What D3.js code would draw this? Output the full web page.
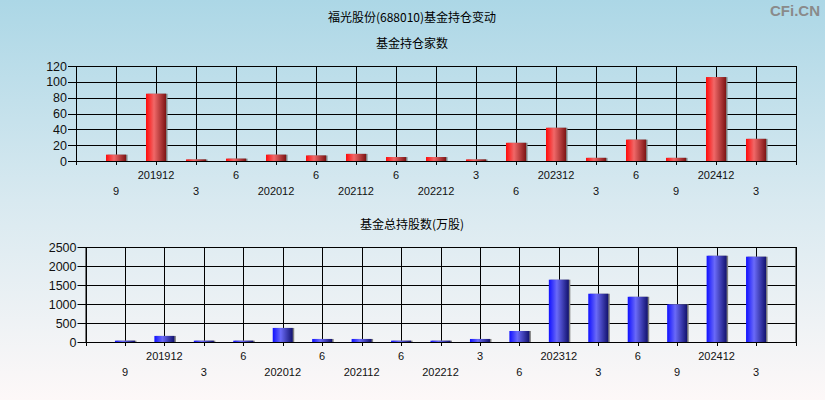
<!DOCTYPE html>
<html><head><meta charset="utf-8">
<script src="https://cdn.jsdelivr.net/npm/d3@7"></script>
<style>html,body{margin:0;padding:0;}svg{display:block;}</style>
</head><body>
<script>
const title = "福光股份(688010)基金持仓变动";
const topTitle = "基金持仓家数";
const bottomTitle = "基金总持股数(万股)";
const periods = ["9","201912","3","6","202012","6","202112","6","202212","3","6","202312","3","6","9","202412","3"];
const fundCount = [8,85,2,3,8,7,9,5,5,2,23,42,4,27,4,106,28];
const sharesHeld = [35,160,35,35,370,80,80,35,35,80,290,1640,1270,1190,990,2270,2245];
const topTicks = [0,20,40,60,80,100,120];
const bottomTicks = [0,500,1000,1500,2000,2500];

const W = 825, H = 400;
const svg = d3.select("body").append("svg").attr("width", W).attr("height", H);
const defs = svg.append("defs");
const bg = defs.append("linearGradient").attr("id","bg").attr("x1",0).attr("y1",0).attr("x2",0).attr("y2",1);
bg.append("stop").attr("offset","0%").attr("stop-color","#acd7e6");
bg.append("stop").attr("offset","50%").attr("stop-color","#d8e9f0");
bg.append("stop").attr("offset","100%").attr("stop-color","#fdf8f8");
function barGrad(id, c1, c2, c3) {
  const g = defs.append("linearGradient").attr("id", id).attr("x1",0).attr("y1",0).attr("x2",1).attr("y2",0);
  g.append("stop").attr("offset","0%").attr("stop-color",c1);
  g.append("stop").attr("offset","40%").attr("stop-color",c2);
  g.append("stop").attr("offset","100%").attr("stop-color",c3);
}
barGrad("red", "#ff0a0a", "#f06868", "#7e1414");
barGrad("blue", "#1010ff", "#6a6af8", "#12126e");

svg.append("rect").attr("width", W).attr("height", H).attr("fill", "url(#bg)");

const cjk = "'Noto Sans CJK SC', sans-serif";
const num = "'Liberation Sans', Arial, sans-serif";

svg.append("text").attr("x", 412).attr("y", 22).attr("text-anchor","middle")
  .style("font-family", cjk).style("font-size","12px").attr("fill","#000").text(title);
svg.append("text").attr("x", 820).attr("y", 16).attr("text-anchor","end")
  .style("font-family", num).style("font-size","15px").style("font-weight","bold").attr("fill","#8a8a8a").text("CFi.CN");

function panel(cfg) {
  const g = svg.append("g");
  const x = d3.scaleLinear().domain([0, periods.length + 1]).range([cfg.left, cfg.right]);
  const y = d3.scaleLinear().domain([0, cfg.max]).range([cfg.bottom, cfg.top]);
  g.append("text").attr("x", 412).attr("y", cfg.titleY).attr("text-anchor","middle")
    .style("font-family", cjk).style("font-size","12px").attr("fill","#000").text(cfg.title);
  // horizontal grid + y ticks
  g.selectAll(".hg").data(cfg.ticks).join("line")
    .attr("x1", cfg.left - 8).attr("x2", cfg.right)
    .attr("y1", d => Math.round(y(d)) + 0.5).attr("y2", d => Math.round(y(d)) + 0.5)
    .attr("stroke","#000").attr("stroke-width",1);
  g.selectAll(".yl").data(cfg.ticks).join("text")
    .attr("x", cfg.left - 9).attr("y", d => y(d) + 4.5).attr("text-anchor","end")
    .style("font-family", num).style("font-size","12.5px").attr("fill","#111").text(d => d);
  // vertical grid
  const xt = d3.range(0, periods.length + 2);
  g.selectAll(".vg").data(xt).join("line")
    .attr("x1", d => Math.round(x(d)) + 0.5).attr("x2", d => Math.round(x(d)) + 0.5)
    .attr("y1", cfg.top).attr("y2", cfg.bottom + 4)
    .attr("stroke","#000").attr("stroke-width",1);
  // border
  g.append("rect").attr("x", cfg.left + 0.5).attr("y", Math.round(cfg.top) + 0.5)
    .attr("width", cfg.right - cfg.left).attr("height", Math.round(cfg.bottom) - Math.round(cfg.top))
    .attr("fill","none").attr("stroke","#000");
  // bars
  const bw = 20;
  const data = cfg.values.map((v, i) => ({v, i: i + 1}));
  g.selectAll(".sh").data(data).join("rect")
    .attr("x", d => x(d.i) - bw/2 + 1.5).attr("width", bw)
    .attr("y", d => y(d.v)).attr("height", d => y(0) - y(d.v))
    .attr("fill","#808080");
  g.selectAll(".bar").data(data).join("rect")
    .attr("x", d => x(d.i) - bw/2).attr("width", bw)
    .attr("y", d => y(d.v)).attr("height", d => y(0) - y(d.v))
    .attr("fill", `url(#${cfg.grad})`);
  // x labels
  g.selectAll(".xl").data(periods).join("text")
    .attr("x", (d, i) => x(i + 1)).attr("y", (d, i) => cfg.bottom + (i % 2 === 0 ? 34 : 18))
    .attr("text-anchor","middle")
    .style("font-family", num).style("font-size","11px").attr("fill","#111").text(d => d);
}

panel({title: topTitle, titleY: 48, left: 76, right: 796, top: 66, bottom: 161, max: 120,
       ticks: topTicks, values: fundCount, grad: "red"});
panel({title: bottomTitle, titleY: 229, left: 85.5, right: 795.5, top: 247, bottom: 342, max: 2500,
       ticks: bottomTicks, values: sharesHeld, grad: "blue"});
</script>
</body></html>
